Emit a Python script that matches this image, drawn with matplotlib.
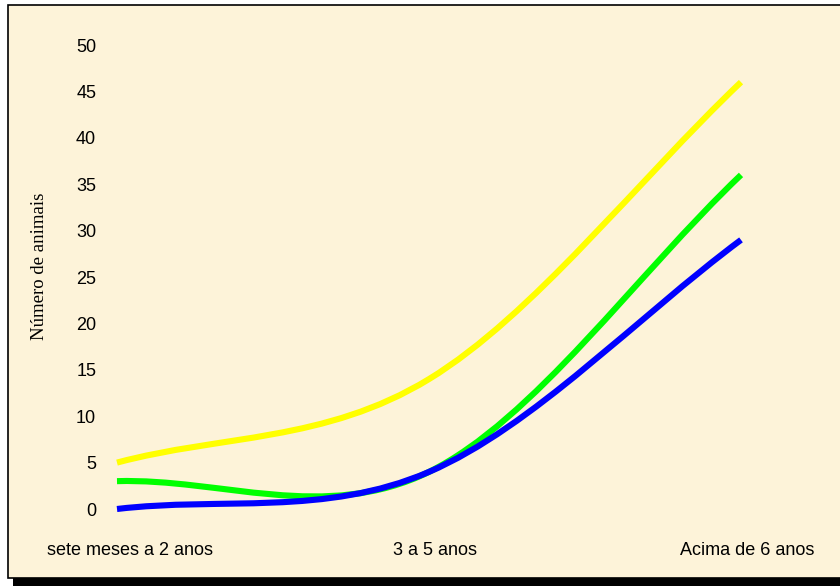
import matplotlib.pyplot as plt
import matplotlib.transforms as mtransforms
from matplotlib.patches import Rectangle, PathPatch
from matplotlib.path import Path

categories = ['sete meses a 2 anos', '3 a 5 anos', 'Acima de 6 anos']
serie_amarela = [5, 14, 46]
serie_verde = [3, 4, 36]
serie_azul = [0, 4, 29]
y_ticks = [0, 5, 10, 15, 20, 25, 30, 35, 40, 45, 50]

W, H = 840, 586
fundo = '#fdf3d9'


def smooth_path(xs, ys):
    # Bezier through the points, Catmull-Rom style like spreadsheet "smoothed line"
    pts = list(zip(xs, ys))
    n = len(pts)
    verts = [pts[0]]
    codes = [Path.MOVETO]
    for i in range(n - 1):
        p0 = pts[i - 1] if i > 0 else None
        p1 = pts[i]
        p2 = pts[i + 1]
        p3 = pts[i + 2] if i + 2 < n else None
        if p0 is None:
            c1 = (p1[0] + (p2[0] - p1[0]) / 3, p1[1] + (p2[1] - p1[1]) / 3)
        else:
            c1 = (p1[0] + (p2[0] - p0[0]) / 6, p1[1] + (p2[1] - p0[1]) / 6)
        if p3 is None:
            c2 = (p2[0] - (p2[0] - p1[0]) / 3, p2[1] - (p2[1] - p1[1]) / 3)
        else:
            c2 = (p2[0] - (p3[0] - p1[0]) / 6, p2[1] - (p3[1] - p1[1]) / 6)
        verts += [c1, c2, p2]
        codes += [Path.CURVE4] * 3
    return Path(verts, codes)


fig = plt.figure(figsize=(W / 100, H / 100), dpi=100)
fig.patch.set_facecolor('white')

# shadow and chart frame
fig.add_artist(Rectangle((13 / W, 0), 1, 8 / H, transform=fig.transFigure,
                         facecolor='black', edgecolor='none', zorder=-2))
fig.add_artist(Rectangle((8 / W, 8 / H), 1, (H - 5 - 8) / H, transform=fig.transFigure,
                         facecolor=fundo, edgecolor='black', linewidth=1.2, zorder=-1))

ax = fig.add_axes([117 / W, 77 / H, (741 - 117) / W, (509 - 45) / H])
ax.set_zorder(1)
ax.set_facecolor('none')
ax.set_xlim(0, 2)
ax.set_ylim(0, 50)

x = range(len(categories))
for serie, cor in [(serie_amarela, '#ffff00'), (serie_verde, '#00ff00'), (serie_azul, '#0000ff')]:
    patch = PathPatch(smooth_path(list(x), serie), facecolor='none', edgecolor=cor,
                      linewidth=4.4, capstyle='butt', joinstyle='round')
    patch.set_clip_on(False)
    ax.add_patch(patch)

for s in ax.spines.values():
    s.set_visible(False)

ax.set_yticks(y_ticks)
ax.set_yticklabels([str(v) for v in y_ticks], fontsize=13, family='Liberation Sans')
ax.set_xticks(list(x))
ax.set_xticklabels(categories, fontsize=13, family='Liberation Sans')
ax.tick_params(axis='y', length=0, pad=15)
ax.tick_params(axis='x', length=0, pad=24)

shifts = [13, 6, 6]
for lbl, dx in zip(ax.get_xticklabels(), shifts):
    lbl.set_transform(lbl.get_transform() + mtransforms.ScaledTranslation(dx / 100, 0, fig.dpi_scale_trans))

fig.text(40 / W, 1 - 266 / H, 'Número de animais', rotation=90, ha='center', va='center',
         fontsize=13.5, family='Liberation Serif')

fig.savefig('out.png', dpi=100)
